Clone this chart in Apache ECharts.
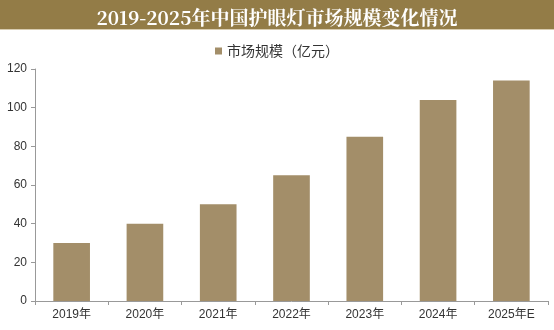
<!DOCTYPE html>
<html><head><meta charset="utf-8">
<script src="https://cdn.jsdelivr.net/npm/echarts@6/dist/echarts.min.js"></script>
<style>html,body{margin:0;padding:0;background:#fff}#c{width:554px;height:330px}</style>
</head><body><div id="c"></div>
<script>
const titleText = "2019-2025年中国护眼灯市场规模变化情况";
const seriesName = "市场规模（亿元）";
const categories = ["2019年","2020年","2021年","2022年","2023年","2024年","2025年E"];
const values = [30, 40, 50, 65, 85, 104, 114];
const yTicks = [0, 20, 40, 60, 80, 100, 120];

const chart = echarts.init(document.getElementById('c'));
chart.setOption({
  backgroundColor: '#fff',
  animation: false,
  graphic: [
    {type:'rect', left:0, top:0, shape:{width:554, height:29}, style:{fill:'#937c47'}},
    {type:'rect', left:0, top:29, shape:{width:554, height:1}, style:{fill:'#d8ccb0'}}
  ],
  title: {
    text: titleText, left: 'center', top: 3,
    textStyle: {color:'#fff', fontSize:19, fontWeight:'bold', fontFamily:'"Noto Serif CJK SC","DejaVu Serif","Liberation Serif",serif'}
  },
  legend: {
    data: [seriesName], top: 39, left: 'center',
    icon: 'rect', itemWidth: 7, itemHeight: 7, itemGap: 2,
    textStyle: {color:'#333', fontSize:14, fontFamily:'"Noto Sans CJK SC",sans-serif'}
  },
  grid: {left: 35, right: 6, top: 69, bottom: 29, containLabel: false},
  xAxis: {
    type: 'category', data: categories,
    axisLine: {lineStyle:{color:'#999'}},
    axisTick: {show:true, alignWithLabel:false, length:4, lineStyle:{color:'#999'}},
    axisLabel: {color:'#333', fontSize:12, margin:8, fontFamily:'"Liberation Sans","Noto Sans CJK SC",sans-serif'}
  },
  yAxis: {
    type: 'value', min: 0, max: 120, interval: 20,
    axisLine: {show:true, lineStyle:{color:'#999'}},
    axisTick: {show:true, length:4, lineStyle:{color:'#999'}},
    splitLine: {show:false},
    axisLabel: {color:'#333', fontSize:12, margin:8, fontFamily:'"Liberation Sans",sans-serif',
      formatter: v => yTicks.includes(v) ? String(v) : ''}
  },
  series: [{
    name: seriesName, type: 'bar', data: values, barWidth: '50%',
    itemStyle: {color:'#a38e69'}
  }]
});
</script></body></html>
